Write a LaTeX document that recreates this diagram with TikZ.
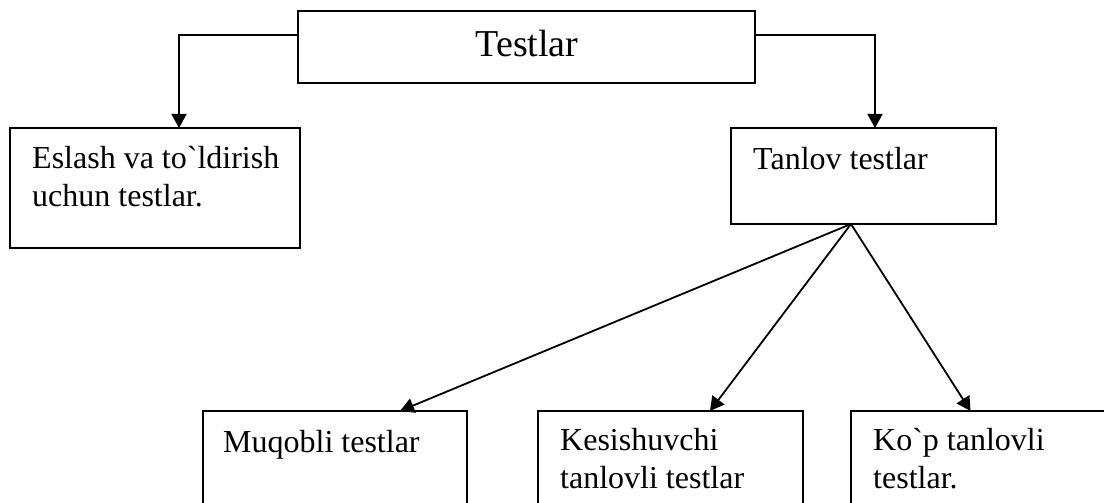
\documentclass[tikz,border=0pt]{standalone}
\usepackage{fontspec}
\setmainfont{Liberation Serif}
\newfontfamily\tnr{Liberation Serif}
\usetikzlibrary{arrows.meta}
\begin{document}
\begin{tikzpicture}[x=1pt,y=-1pt,
  box/.style={draw, line width=1.8pt, rectangle, inner sep=0pt, outer sep=0pt, anchor=north west},
  txt/.style={inner sep=0pt, anchor=north west, align=left, font=\tnr\fontsize{32}{38.5}\selectfont},
  conn/.style={line width=1.8pt, -{Triangle[width=15pt,length=14pt]}}]
\useasboundingbox (0,0) rectangle (1104,503);
% boxes
\node[box, minimum width=457pt, minimum height=72pt] (top) at (298,11) {};
\node[box, minimum width=290pt, minimum height=120pt] (left) at (10,128) {};
\node[box, minimum width=265pt, minimum height=96pt] (right) at (731,128) {};
\node[box, minimum width=264pt, minimum height=100pt] (muq) at (203,411) {};
\node[box, minimum width=265pt, minimum height=100pt] (kes) at (538,411) {};
\node[box, minimum width=265pt, minimum height=100pt] (kop) at (851,411) {};
% texts
\node[inner sep=0pt, anchor=base, font=\tnr\fontsize{38}{44}\selectfont] (ttop) at (527,57) {Testlar};
\node[txt] (tleft) at (32,146) {Eslash va to`ldirish\\uchun testlar.};
\node[txt] (tright) at (753,147) {Tanlov testlar};
\node[txt] (tmuq) at (223,430) {Muqobli testlar};
\node[txt] (tkes) at (560,428) {Kesishuvchi\\tanlovli testlar};
\node[txt] (tkop) at (873,428) {Ko`p tanlovli\\testlar.};
% connectors
\draw[conn] ([yshift=-24pt]top.north west) -| ([xshift=24pt]left.north);
\draw[conn] ([yshift=-24pt]top.north east) -| ([xshift=11.5pt]right.north);
\coordinate (fan) at ([xshift=-12.5pt]right.south);
\draw[conn] (fan) -- ([xshift=65pt]muq.north);
\draw[conn] (fan) -- ([xshift=39.5pt]kes.north);
\draw[conn] (fan) -- ([xshift=-13pt]kop.north);
\end{tikzpicture}
\end{document}
